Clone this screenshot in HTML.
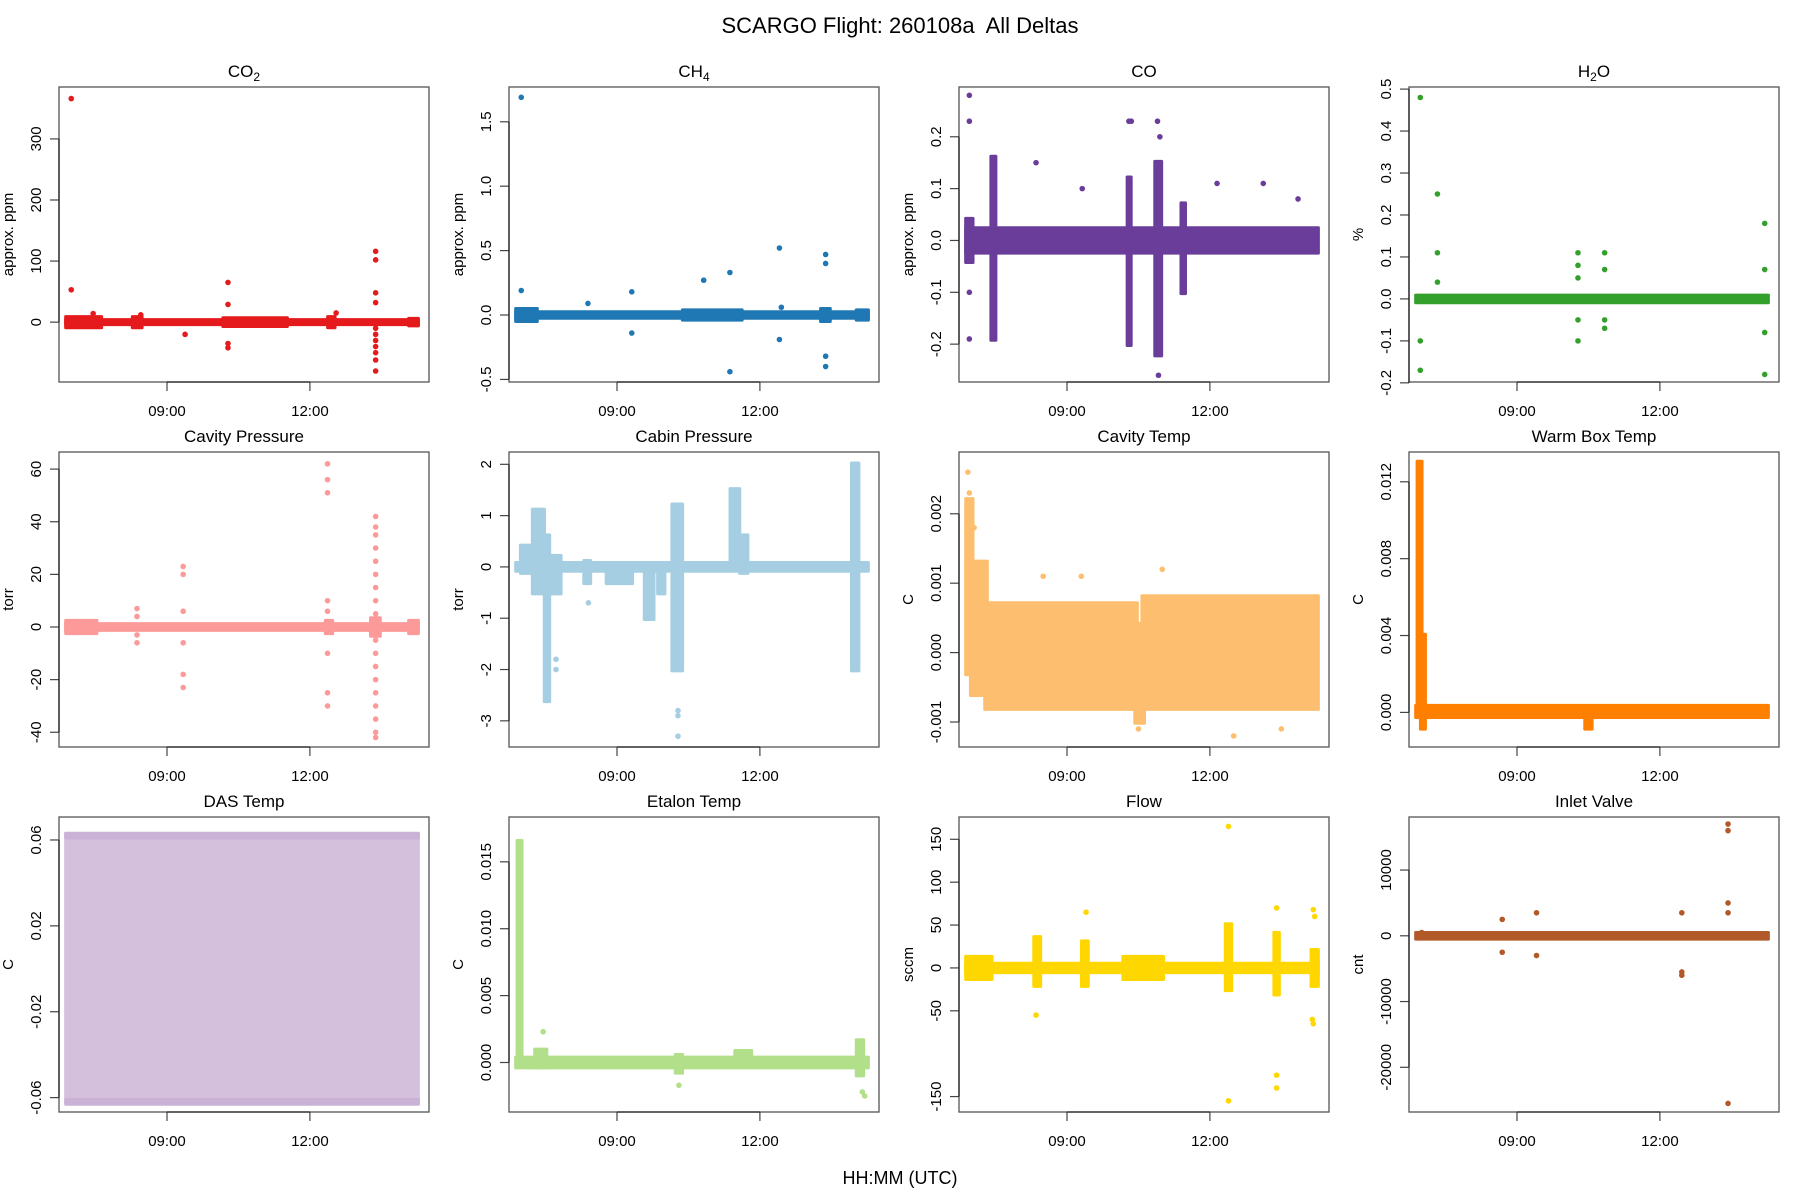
<!DOCTYPE html>
<html><head><meta charset="utf-8"><style>
html,body{margin:0;padding:0;background:#fff;}
svg{display:block;font-family:"Liberation Sans",sans-serif;}
</style></head><body>
<svg id="chart" width="1800" height="1200" viewBox="0 0 1800 1200" xmlns="http://www.w3.org/2000/svg">
<rect x="0" y="0" width="1800" height="1200" fill="#fff"/>
<text x="900" y="33" text-anchor="middle" font-size="22" style="white-space:pre">SCARGO Flight: 260108a  All Deltas</text>
<text x="900" y="1184" text-anchor="middle" font-size="18">HH:MM (UTC)</text>
</svg>
<script>
// ---- shared x data ----
const xTickHours = [9, 12];
const xTickLabels = ["09:00", "12:00"];
const xLim = [6.733, 14.5];

// ---- CO2 ----
const co2YLim = [-98, 385];
const co2Ticks = [0, 100, 200, 300];
const co2TickLabels = ["0", "100", "200", "300"];
const co2BandT0 = [6.9, 6.9, 8.3, 10.2, 12.4, 14.1];
const co2BandT1 = [14.25, 7.6, 8.45, 11.5, 12.5, 14.25];
const co2BandLo = [-2, -7, -7, -5, -7, -4];
const co2BandHi = [2, 7, 7, 5, 7, 4];
const co2PtT = [6.99, 6.99, 10.28, 10.28, 10.28, 10.28, 9.38, 13.38, 13.38, 13.38, 13.38, 13.38, 13.38, 13.38, 13.38, 13.38, 13.38, 13.38, 12.55, 8.45, 7.45];
const co2PtV = [366, 53, 65, 29, -35, -42, -20, 116, 102, 48, 32, -10, -20, -30, -40, -50, -62, -80, 15, 12, 14];

// ---- CH4 ----
const ch4YLim = [-0.52, 1.77];
const ch4Ticks = [-0.5, 0, 0.5, 1, 1.5];
const ch4TickLabels = ["-0.5", "0.0", "0.5", "1.0", "1.5"];
const ch4BandT0 = [6.9, 6.9, 10.4, 13.3, 14.05];
const ch4BandT1 = [14.25, 7.3, 11.6, 13.45, 14.25];
const ch4BandLo = [-0.015, -0.04, -0.03, -0.04, -0.03];
const ch4BandHi = [0.015, 0.04, 0.03, 0.04, 0.03];
const ch4PtT = [6.99, 6.99, 8.39, 9.31, 9.31, 10.82, 11.37, 11.37, 12.41, 12.41, 13.38, 13.38, 13.38, 13.38, 12.45];
const ch4PtV = [1.69, 0.19, 0.09, 0.18, -0.14, 0.27, 0.33, -0.44, 0.52, -0.19, 0.47, 0.40, -0.32, -0.40, 0.06];

// ---- CO ----
const coYLim = [-0.273, 0.296];
const coTicks = [-0.2, -0.1, 0, 0.1, 0.2];
const coTickLabels = ["-0.2", "-0.1", "0.0", "0.1", "0.2"];
const coBandT0 = [6.9, 6.9, 7.43, 10.29, 10.87, 11.42];
const coBandT1 = [14.25, 7.0, 7.48, 10.32, 10.96, 11.46];
const coBandLo = [-0.022, -0.04, -0.19, -0.2, -0.22, -0.1];
const coBandHi = [0.022, 0.04, 0.16, 0.12, 0.15, 0.07];
const coPtT = [6.95, 6.95, 6.95, 6.95, 8.35, 9.32, 12.15, 13.12, 13.85, 10.3, 10.35, 10.9, 10.92, 10.95, 10.88];
const coPtV = [0.28, 0.23, -0.19, -0.1, 0.15, 0.1, 0.11, 0.11, 0.08, 0.23, 0.23, 0.23, -0.26, 0.2, -0.2];

// ---- H2O ----
const h2oYLim = [-0.198, 0.505];
const h2oTicks = [-0.2, -0.1, 0, 0.1, 0.2, 0.3, 0.4, 0.5];
const h2oTickLabels = ["-0.2", "-0.1", "0.0", "0.1", "0.2", "0.3", "0.4", "0.5"];
const h2oBandT0 = [6.9];
const h2oBandT1 = [14.25];
const h2oBandLo = [-0.006];
const h2oBandHi = [0.006];
const h2oPtT = [6.97, 6.97, 6.97, 7.33, 7.33, 7.33, 10.28, 10.28, 10.28, 10.28, 10.28, 10.84, 10.84, 10.84, 10.84, 14.2, 14.2, 14.2, 14.2];
const h2oPtV = [0.48, -0.1, -0.17, 0.25, 0.11, 0.04, 0.11, 0.08, 0.05, -0.1, -0.05, 0.11, 0.07, -0.07, -0.05, 0.18, 0.07, -0.08, -0.18];

// ---- Cavity Pressure ----
const cavpYLim = [-45.6, 66.5];
const cavpTicks = [-40, -20, 0, 20, 40, 60];
const cavpTickLabels = ["-40", "-20", "0", "20", "40", "60"];
const cavpBandT0 = [6.9, 6.9, 14.1, 12.35, 13.3];
const cavpBandT1 = [14.25, 7.5, 14.25, 12.45, 13.45];
const cavpBandLo = [-0.8, -2, -2, -2, -3];
const cavpBandHi = [0.8, 2, 2, 2, 3];
const cavpPtT = [8.37, 8.37, 8.37, 8.37, 9.34, 9.34, 9.34, 9.34, 9.34, 9.34, 12.37, 12.37, 12.37, 12.37, 12.37, 12.37, 12.37, 12.37,
  13.38, 13.38, 13.38, 13.38, 13.38, 13.38, 13.38, 13.38, 13.38, 13.38, 13.38, 13.38, 13.38, 13.38, 13.38, 13.38, 13.38, 13.38];
const cavpPtV = [7, 4, -3, -6, 23, 20, -18, -23, 6, -6, 62, 56, 51, 10, 6, -10, -25, -30,
  42, 38, 35, 30, 25, 20, 15, 10, 5, -5, -10, -15, -20, -25, -30, -35, -40, -42];

// ---- Cabin Pressure ----
const cabpYLim = [-3.51, 2.24];
const cabpTicks = [-3, -2, -1, 0, 1, 2];
const cabpTickLabels = ["-3", "-2", "-1", "0", "1", "2"];
const cabpBandT0 = [6.9, 7.0, 7.25, 7.5, 7.6, 8.33, 8.8, 9.6, 9.88, 10.18, 11.4, 11.6, 13.95];
const cabpBandT1 = [14.25, 7.3, 7.45, 7.56, 7.8, 8.42, 9.3, 9.75, 9.98, 10.35, 11.55, 11.72, 14.05];
const cabpBandLo = [-0.06, -0.1, -0.5, -2.6, -0.5, -0.3, -0.3, -1.0, -0.5, -2.0, 0, -0.1, -2.0];
const cabpBandHi = [0.06, 0.4, 1.1, 0.6, 0.2, 0.1, 0.05, 0.0, 0.0, 1.2, 1.5, 0.6, 2.0];
const cabpPtT = [7.72, 7.72, 8.4, 10.28, 10.28, 10.28];
const cabpPtV = [-1.8, -2.0, -0.7, -2.8, -2.9, -3.3];

// ---- Cavity Temp ----
const cavtYLim = [-0.00136, 0.00289];
const cavtTicks = [-0.001, 0, 0.001, 0.002];
const cavtTickLabels = ["-0.001", "0.000", "0.001", "0.002"];
const cavtBandT0 = [6.9, 7.0, 7.3, 10.45, 10.6];
const cavtBandT1 = [7.0, 7.3, 10.45, 10.6, 14.25];
const cavtBandLo = [-0.0003, -0.0006, -0.0008, -0.001, -0.0008];
const cavtBandHi = [0.0022, 0.0013, 0.0007, 0.0004, 0.0008];
const cavtPtT = [6.92, 6.95, 7.0, 7.05, 8.5, 11.0, 12.5, 13.5, 10.5, 9.3];
const cavtPtV = [0.0026, 0.0023, 0.0021, 0.0018, 0.0011, 0.0012, -0.0012, -0.0011, -0.0011, 0.0011];

// ---- Warm Box Temp ----
const wbtYLim = [-0.0018, 0.01355];
const wbtTicks = [0, 0.004, 0.008, 0.012];
const wbtTickLabels = ["0.000", "0.004", "0.008", "0.012"];
const wbtBandT0 = [6.93, 7.0, 6.9, 10.45];
const wbtBandT1 = [6.98, 7.05, 14.25, 10.55];
const wbtBandLo = [0, -0.0008, -0.0002, -0.0008];
const wbtBandHi = [0.013, 0.004, 0.0003, 0.0002];
const wbtPtT = [6.95];
const wbtPtV = [0.0128];

// ---- DAS Temp ----
const dasYLim = [-0.0667, 0.0707];
const dasTicks = [-0.06, -0.02, 0.02, 0.06];
const dasTickLabels = ["-0.06", "-0.02", "0.02", "0.06"];
const dasBandT0 = [6.9, 6.9, 6.9];
const dasBandT1 = [14.25, 14.25, 14.25];
const dasBandLo = [-0.062, -0.0625, 0.0615];
const dasBandHi = [0.062, -0.0615, 0.0625];
const dasPtT = [];
const dasPtV = [];

// ---- Etalon Temp ----
const etYLim = [-0.0037, 0.01835];
const etTicks = [0, 0.005, 0.01, 0.015];
const etTickLabels = ["0.000", "0.005", "0.010", "0.015"];
const etBandT0 = [6.93, 6.9, 7.3, 11.5, 10.25, 14.05];
const etBandT1 = [6.98, 14.25, 7.5, 11.8, 10.35, 14.15];
const etBandLo = [0, -0.0003, -0.0003, -0.0001, -0.0007, -0.0009];
const etBandHi = [0.0165, 0.0003, 0.0009, 0.0008, 0.0005, 0.0016];
const etPtT = [7.45, 14.15, 14.2, 10.3];
const etPtV = [0.0023, -0.0022, -0.0025, -0.0017];

// ---- Flow ----
const flowYLim = [-168, 176];
const flowTicks = [-150, -50, 0, 50, 100, 150];
const flowTickLabels = ["-150", "-50", "0", "50", "100", "150"];
const flowBandT0 = [6.9, 6.9, 8.33, 9.33, 10.2, 12.35, 13.37, 14.15];
const flowBandT1 = [14.25, 7.4, 8.42, 9.42, 11.0, 12.43, 13.43, 14.25];
const flowBandLo = [-4, -12, -20, -20, -12, -25, -30, -20];
const flowBandHi = [4, 12, 35, 30, 12, 50, 40, 20];
const flowPtT = [12.39, 12.39, 13.4, 13.4, 13.4, 14.17, 14.17, 9.4, 8.35, 14.2, 14.15];
const flowPtV = [165, -155, 70, -140, -125, 68, -65, 65, -55, 60, -60];

// ---- Inlet Valve ----
const ivYLim = [-26800, 18070];
const ivTicks = [-20000, -10000, 0, 10000];
const ivTickLabels = ["-20000", "-10000", "0", "10000"];
const ivBandT0 = [6.9];
const ivBandT1 = [14.25];
const ivBandLo = [-300];
const ivBandHi = [300];
const ivPtT = [8.69, 8.69, 9.41, 9.41, 12.46, 12.46, 12.46, 13.43, 13.43, 13.43, 13.43, 13.43, 7.0];
const ivPtV = [2500, -2500, 3500, -3000, 3500, -6000, -5500, 17000, 16000, 5000, 3500, -25500, 500];

const panels = [
  {name:"co2", title:"CO", sub:"2", ylab:"approx. ppm", color:"#E41A1C", yl:co2YLim, tk:co2Ticks, tl:co2TickLabels, b:[co2BandT0,co2BandT1,co2BandLo,co2BandHi], p:[co2PtT,co2PtV]},
  {name:"ch4", title:"CH", sub:"4", ylab:"approx. ppm", color:"#1F78B4", yl:ch4YLim, tk:ch4Ticks, tl:ch4TickLabels, b:[ch4BandT0,ch4BandT1,ch4BandLo,ch4BandHi], p:[ch4PtT,ch4PtV]},
  {name:"co", title:"CO", sub:"", ylab:"approx. ppm", color:"#6A3D9A", yl:coYLim, tk:coTicks, tl:coTickLabels, b:[coBandT0,coBandT1,coBandLo,coBandHi], p:[coPtT,coPtV]},
  {name:"h2o", title:"H", sub:"2", after:"O", ylab:"%", color:"#33A02C", yl:h2oYLim, tk:h2oTicks, tl:h2oTickLabels, b:[h2oBandT0,h2oBandT1,h2oBandLo,h2oBandHi], p:[h2oPtT,h2oPtV]},
  {name:"cavity-pressure", title:"Cavity Pressure", sub:"", ylab:"torr", color:"#FB9A99", yl:cavpYLim, tk:cavpTicks, tl:cavpTickLabels, b:[cavpBandT0,cavpBandT1,cavpBandLo,cavpBandHi], p:[cavpPtT,cavpPtV]},
  {name:"cabin-pressure", title:"Cabin Pressure", sub:"", ylab:"torr", color:"#A6CEE3", yl:cabpYLim, tk:cabpTicks, tl:cabpTickLabels, b:[cabpBandT0,cabpBandT1,cabpBandLo,cabpBandHi], p:[cabpPtT,cabpPtV]},
  {name:"cavity-temp", title:"Cavity Temp", sub:"", ylab:"C", color:"#FDBF6F", yl:cavtYLim, tk:cavtTicks, tl:cavtTickLabels, b:[cavtBandT0,cavtBandT1,cavtBandLo,cavtBandHi], p:[cavtPtT,cavtPtV]},
  {name:"warm-box-temp", title:"Warm Box Temp", sub:"", ylab:"C", color:"#FF7F00", yl:wbtYLim, tk:wbtTicks, tl:wbtTickLabels, b:[wbtBandT0,wbtBandT1,wbtBandLo,wbtBandHi], p:[wbtPtT,wbtPtV]},
  {name:"das-temp", title:"DAS Temp", sub:"", ylab:"C", color:"#CAB2D6", yl:dasYLim, tk:dasTicks, tl:dasTickLabels, b:[dasBandT0,dasBandT1,dasBandLo,dasBandHi], p:[dasPtT,dasPtV], light:true},
  {name:"etalon-temp", title:"Etalon Temp", sub:"", ylab:"C", color:"#B2DF8A", yl:etYLim, tk:etTicks, tl:etTickLabels, b:[etBandT0,etBandT1,etBandLo,etBandHi], p:[etPtT,etPtV]},
  {name:"flow", title:"Flow", sub:"", ylab:"sccm", color:"#FFD700", yl:flowYLim, tk:flowTicks, tl:flowTickLabels, b:[flowBandT0,flowBandT1,flowBandLo,flowBandHi], p:[flowPtT,flowPtV]},
  {name:"inlet-valve", title:"Inlet Valve", sub:"", ylab:"cnt", color:"#B15928", yl:ivYLim, tk:ivTicks, tl:ivTickLabels, b:[ivBandT0,ivBandT1,ivBandLo,ivBandHi], p:[ivPtT,ivPtV]}
];

const NS = "http://www.w3.org/2000/svg";
const svg = document.getElementById("chart");
function mk(tag, attrs, parent) {
  const e = document.createElementNS(NS, tag);
  for (const k in attrs) e.setAttribute(k, attrs[k]);
  (parent || svg).appendChild(e);
  return e;
}
const PW = 370, PH = 295, R = 2.8;
panels.forEach((pn, i) => {
  const col = i % 4, row = Math.floor(i / 4);
  const L = 59 + col * 450, T = 87 + row * 365;
  const g = mk("g", {});
  
  
  const xs = t => L + (t - xLim[0]) / (xLim[1] - xLim[0]) * PW;
  const ys = v => T + PH - (v - pn.yl[0]) / (pn.yl[1] - pn.yl[0]) * PH;
  const tt = mk("text", {x: L + PW / 2, y: T - 10, "text-anchor": "middle", "font-size": "17"}, g);
  
  
  tt.appendChild(document.createTextNode(pn.title));
  if (pn.sub) {
    const s = mk("tspan", {"font-size": "12", dy: "4"}, tt);
    s.textContent = pn.sub;
    if (pn.after) { const a = mk("tspan", {dy: "-4"}, tt); a.textContent = pn.after; }
  }
  const [b0, b1, bl, bh] = pn.b;
  for (let k = 0; k < b0.length; k++) {
    const x0 = xs(b0[k]) - R, x1 = xs(b1[k]) + R;
    const y0 = ys(bh[k]) - R, y1 = ys(bl[k]) + R;
    const light = pn.light && k === 0;
    const r = mk("rect", {x: x0, y: y0, width: x1 - x0, height: y1 - y0, rx: 1.5, fill: pn.color, opacity: light ? 0.82 : 1}, g);
    
    
  }
  const [pt, pv] = pn.p;
  for (let k = 0; k < pt.length; k++) {
    const c = mk("circle", {cx: xs(pt[k]), cy: ys(pv[k]), r: R, fill: pn.color}, g);
    
    
  }
  const bx = mk("rect", {x: L, y: T, width: PW, height: PH, fill: "none", stroke: "#555", "stroke-width": "1.3"}, g);
  
  
  xTickHours.forEach((h, k) => {
    const x = xs(h);
    const l = mk("line", {x1: x, x2: x, y1: T + PH, y2: T + PH + 9, stroke: "#444", "stroke-width": "1.2"}, g);
    
    
    const tx = mk("text", {x: x, y: T + PH + 34, "text-anchor": "middle", "font-size": "15"}, g);
    
    
    tx.textContent = xTickLabels[k];
  });
  const xa = mk("line", {x1: xs(xTickHours[0]), x2: xs(xTickHours[xTickHours.length - 1]), y1: T + PH, y2: T + PH, stroke: "#222", "stroke-width": "1.3"}, g);
  
  
  pn.tk.forEach((v, k) => {
    const y = ys(v);
    const l = mk("line", {x1: L - 9, x2: L, y1: y, y2: y, stroke: "#444", "stroke-width": "1.2"}, g);
    
    
    const tx = mk("text", {x: L - 23, y: y, "text-anchor": "middle", "font-size": "15", transform: "rotate(-90 " + (L - 23) + " " + y + ")", dy: "5"}, g);
    
    
    tx.textContent = pn.tl[k];
  });
  const ya = mk("line", {x1: L, x2: L, y1: ys(pn.tk[0]), y2: ys(pn.tk[pn.tk.length - 1]), stroke: "#222", "stroke-width": "1.3"}, g);
  
  
  const yl = mk("text", {x: L - 46, y: T + PH / 2, "text-anchor": "middle", "font-size": "15", transform: "rotate(-90 " + (L - 46) + " " + (T + PH / 2) + ")"}, g);
  
  
  yl.textContent = pn.ylab;
});
</script>
</body></html>
